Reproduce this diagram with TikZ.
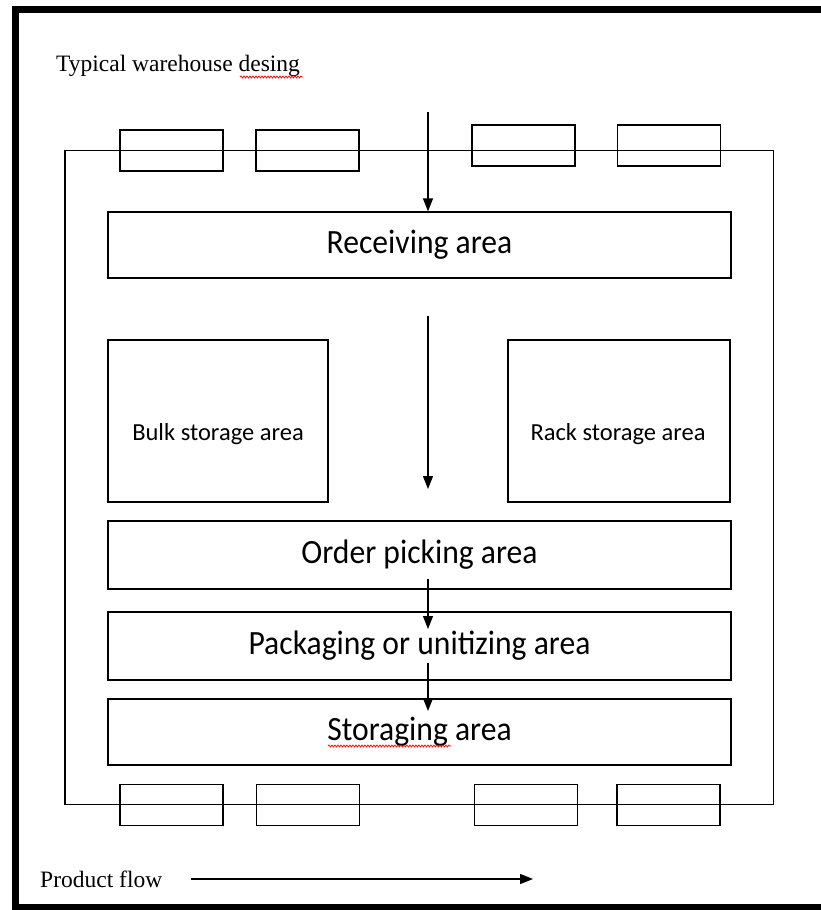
\documentclass[tikz,border=0pt]{standalone}
\usepackage{fontspec}
\setmainfont{Liberation Serif}
\newfontfamily\bodyfont{Carlito}
\usetikzlibrary{arrows.meta,decorations.pathmorphing}
% slightly condensed lettering for the area names
\newcommand\condensed[1]{\scalebox{0.93}[1]{#1}}
\begin{document}
\begin{tikzpicture}[x=1pt,y=-1pt,
  area/.style={draw, line width=1.3pt, inner sep=0pt,
    font=\bodyfont\fontsize{34}{38}\selectfont},
  storebox/.style={draw, line width=1.3pt, inner sep=0pt},
  storelabel/.style={inner sep=0pt, anchor=base,
    font=\bodyfont\fontsize{24.5}{28}\selectfont},
  dock/.style={draw, line width=1.3pt, inner sep=0pt,
    minimum width=103, minimum height=41},
  flow/.style={line width=1.3pt, -{Triangle[length=13pt,width=10pt]}},
  spell/.style={draw=red, line width=0.7pt, decorate,
    decoration={snake, amplitude=1pt, segment length=3pt}},
  caption/.style={inner sep=0pt, font=\fontsize{23.5}{26}\selectfont}]
\useasboundingbox (0,0) rectangle (821,910);

% page frame
\draw[line width=7pt] (15.5,9.5) rectangle (850,907.5);

% title
\node[caption, anchor=base west] (title) at (56,71) {Typical warehouse desing};
\draw[spell] (240,77) -- (303,77);

% building outline
\draw[line width=1.4pt] (65,150.5) rectangle (773.5,804.5);

% dock doors, top wall
\node[dock] (dt1) at (171.5,150.5) {};
\node[dock] (dt2) at (307.5,150.5) {};
\node[dock] (dt3) at (523.5,145.5) {};
\node[dock] (dt4) at (669,145.5) {};

% dock doors, bottom wall
\node[dock] (db1) at (171.5,805) {};
\node[dock] (db2) at (308,805) {};
\node[dock] (db3) at (526,805) {};
\node[dock] (db4) at (668.5,805) {};

% functional areas
\node[area, minimum width=623, minimum height=66] (recv) at (419.5,245) {\condensed{Receiving area}};
\node[storebox, minimum width=220, minimum height=162] (bulk) at (218,421) {};
\node[storelabel] (bulktext) at (218,440) {Bulk storage area};
\node[storebox, minimum width=222, minimum height=162] (rack) at (619,421) {};
\node[storelabel] (racktext) at (618,440) {Rack storage area};
\node[area, minimum width=623, minimum height=68] (pick) at (419.5,555) {\condensed{Order picking area}};
\node[area, minimum width=623, minimum height=68] (pack) at (419.5,646) {\condensed{Packaging or unitizing area}};
\node[area, minimum width=623, minimum height=66] (stor) at (419.5,732) {\condensed{Storaging area}};
\draw[spell] (328,746) -- (451,746);

% product flow through the building
\coordinate (in) at (428,112);
\draw[flow] (in) -- (in |- recv.north);
\coordinate (mid) at (428,316);
\coordinate (midend) at (428,489);
\draw[flow] (mid) -- (midend);
\coordinate (p1) at (428,579);
\coordinate (p1end) at (428,629);
\draw[flow] (p1) -- (p1end);
\coordinate (p2) at (428,663);
\coordinate (p2end) at (428,711);
\draw[flow] (p2) -- (p2end);

% legend
\node[caption, anchor=base west] (legend) at (40,887) {Product flow};
\coordinate (lstart) at (191,879);
\coordinate (lend) at (533,879);
\draw[flow] (lstart) -- (lend);
\end{tikzpicture}
\end{document}
